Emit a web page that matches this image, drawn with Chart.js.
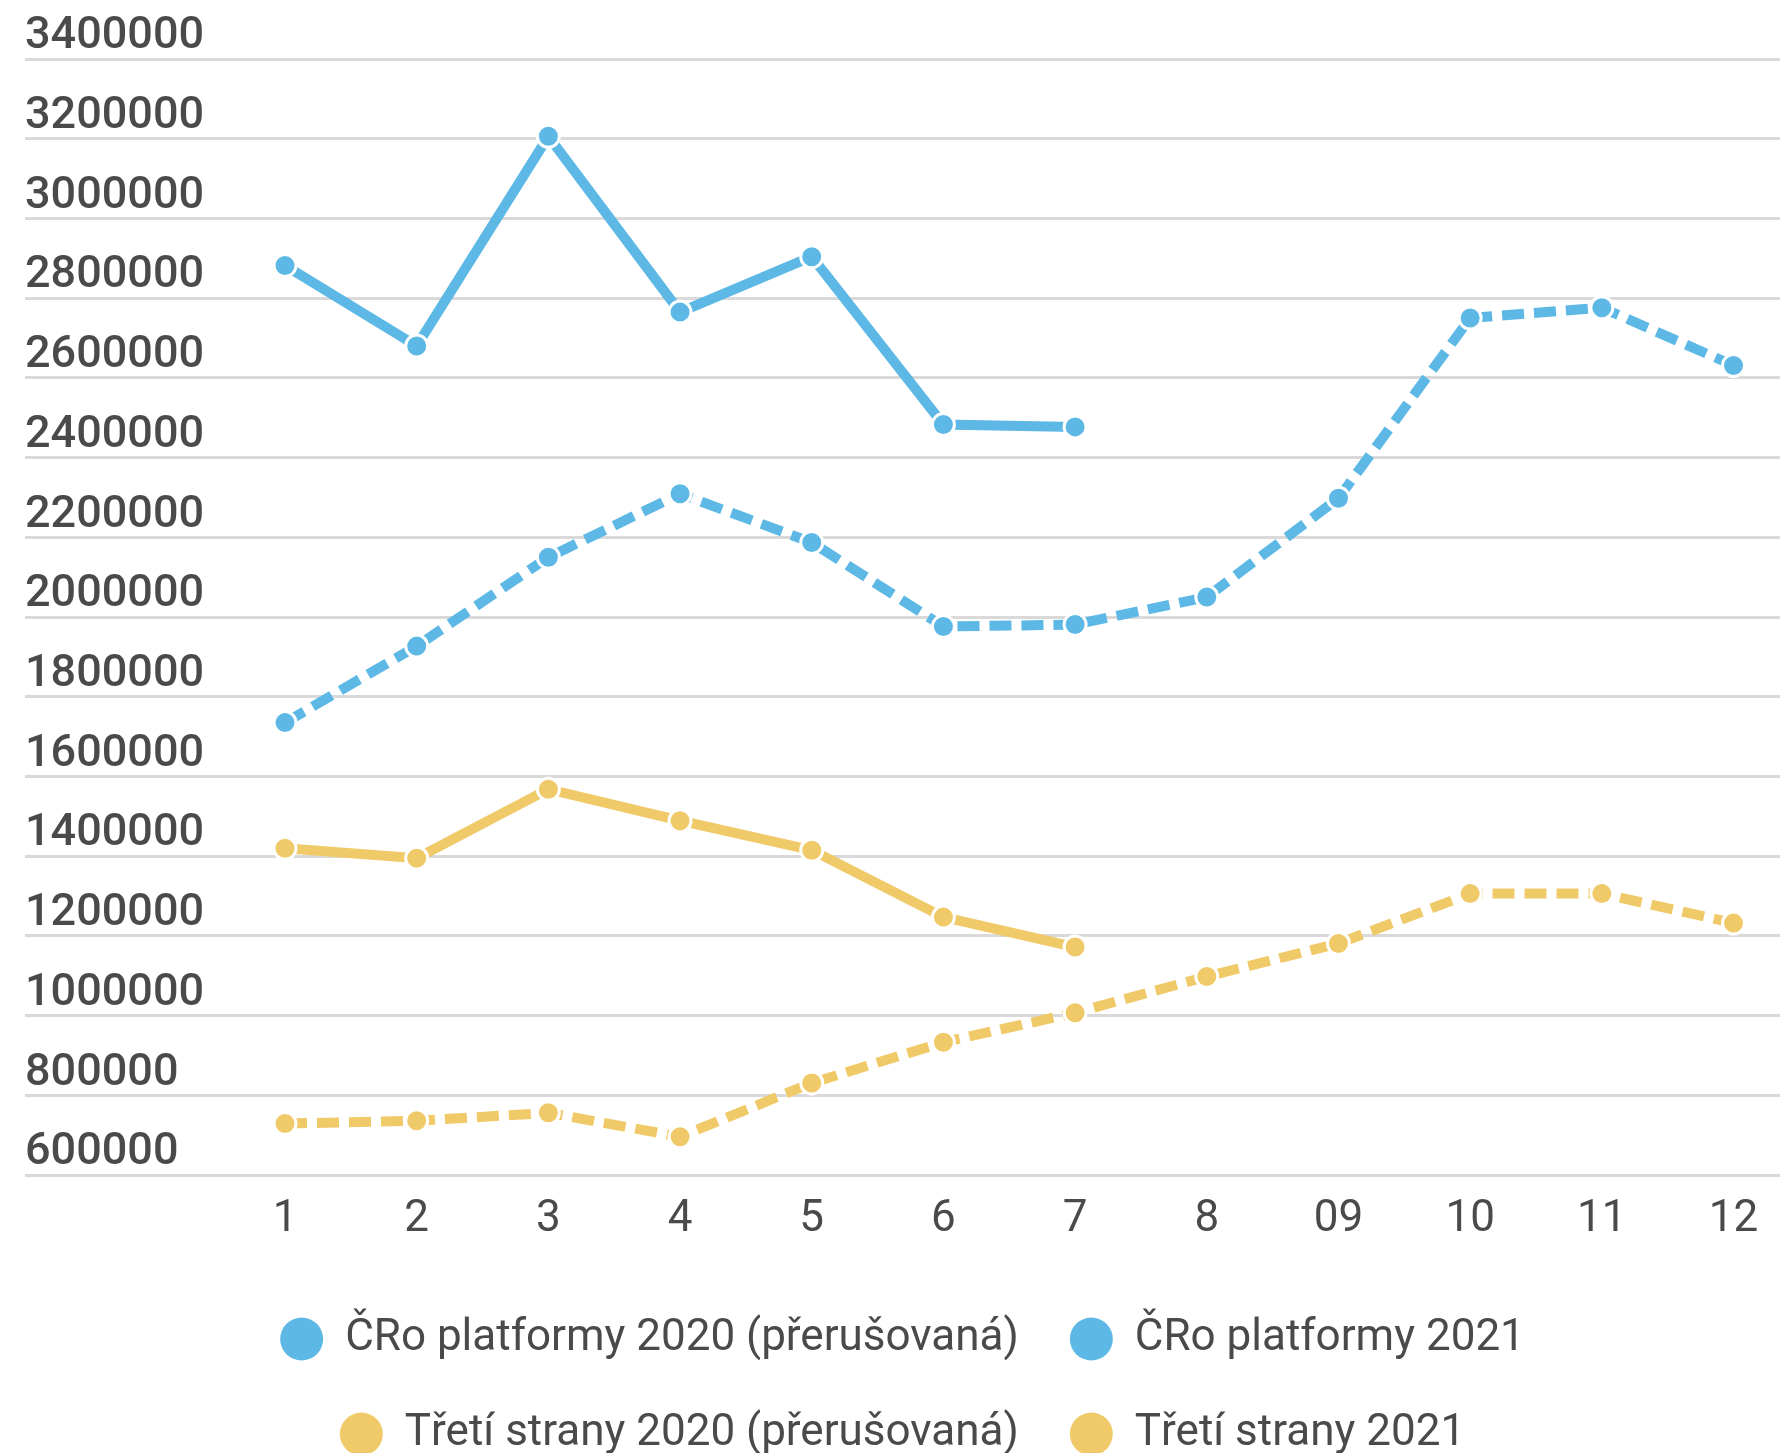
<!DOCTYPE html>
<html lang="cs">
<head>
  <meta charset="UTF-8">
  <title>ČRo platformy a třetí strany</title>
  <script src="https://cdn.jsdelivr.net/npm/chart.js"></script>
  <style>
    body {
      margin: 0;
      background: white;
      overflow: hidden;
    }

    #wrap {
      width: 1780px;
      height: 1466px;
    }
  </style>
</head>
<body>
  <div id="wrap">
    <canvas id="graf"></canvas>
  </div>

  <script>
    // popisky osy x (měsíce)
    const mesice = ['1', '2', '3', '4', '5', '6', '7', '8', '09', '10', '11', '12'];

    // hodnoty
    const croPlatformy2020 = [1735000, 1927000, 2150000, 2309000, 2187000, 1976000, 1981000, 2050000, 2298000, 2750000, 2776000, 2631000];
    const croPlatformy2021 = [2882000, 2680000, 3206000, 2765000, 2904000, 2483000, 2477000];
    const tretiStrany2020 = [729000, 736000, 756000, 696000, 831000, 933000, 1007000, 1098000, 1181000, 1306000, 1306000, 1232000];
    const tretiStrany2021 = [1420000, 1395000, 1568000, 1489000, 1415000, 1247000, 1172000];

    const modra = '#5db8e5';
    const zluta = '#f0ca69';
    const text = '#4a4a4a';

    function body(hodnoty) {
      return hodnoty.map((v, i) => ({ x: i + 1, y: v }));
    }

    function rada(nazev, hodnoty, barva, carkovana) {
      return {
        label: nazev,
        data: body(hodnoty),
        borderColor: barva,
        backgroundColor: barva,
        borderWidth: 10,
        borderDash: carkovana ? [22, 10] : [],
        pointRadius: 11,
        pointBorderWidth: 3,
        pointBorderColor: 'white',
        pointBackgroundColor: barva,
        tension: 0,
        fill: false
      };
    }

    const ctx = document.getElementById('graf').getContext('2d');
    new Chart(ctx, {
      type: 'line',
      data: {
        datasets: [
          rada('ČRo platformy 2020 (přerušovaná)', croPlatformy2020, modra, true),
          rada('ČRo platformy 2021', croPlatformy2021, modra, false),
          rada('Třetí strany 2020 (přerušovaná)', tretiStrany2020, zluta, true),
          rada('Třetí strany 2021', tretiStrany2021, zluta, false)
        ]
      },
      options: {
        responsive: true,
        maintainAspectRatio: false,
        animation: false,
        layout: {
          autoPadding: false,
          padding: { top: 59, left: 25, right: 0, bottom: 0 }
        },
        plugins: {
          tooltip: { enabled: false },
          legend: {
            position: 'bottom',
            labels: {
              color: text,
              font: { family: 'Roboto', size: 44 },
              boxWidth: 43,
              boxHeight: 43,
              useBorderRadius: true,
              borderRadius: 21.5,
              padding: 51,
              // kolečka v legendě bez čárkovaného okraje
              generateLabels: chart => Chart.defaults.plugins.legend.labels.generateLabels(chart)
                .map(l => ({ ...l, lineWidth: 0, lineDash: [] }))
            }
          }
        },
        scales: {
          x: {
            type: 'linear',
            min: -0.9745,
            max: 12.353,
            grid: { display: false },
            border: { display: false },
            afterBuildTicks: s => {
              s.ticks = mesice.map((m, i) => ({ value: i + 1 }));
            },
            afterFit: s => {
              s.height = 91;
              s.paddingLeft = 0;
              s.paddingRight = 0;
            },
            ticks: {
              color: text,
              font: { family: 'Roboto', size: 44 },
              padding: 11,
              maxRotation: 0,
              autoSkip: false,
              callback: v => mesice[v - 1]
            }
          },
          y: {
            min: 600000,
            max: 3400000,
            grid: {
              color: '#d9d9d9',
              lineWidth: 3,
              drawTicks: false
            },
            border: { display: false },
            ticks: {
              stepSize: 200000,
              mirror: true,
              padding: 0,
              labelOffset: -22,
              color: text,
              font: { family: 'Roboto', size: 45, weight: '500' },
              callback: v => String(v)
            }
          }
        }
      }
    });
  </script>
</body>
</html>
